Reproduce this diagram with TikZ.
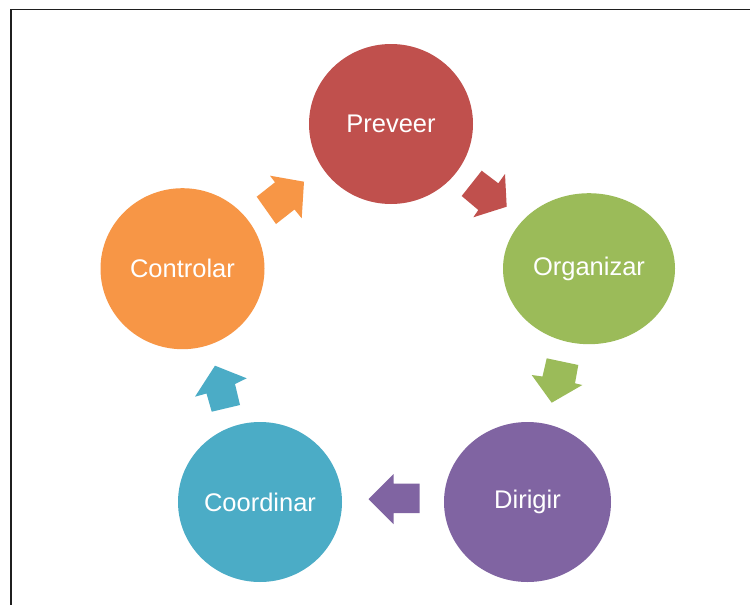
\documentclass[tikz,border=0pt]{standalone}
\usepackage{fontspec}
\setmainfont{Liberation Sans}
\usetikzlibrary{shapes.geometric}
\definecolor{cred}{HTML}{C0504D}
\definecolor{cgreen}{HTML}{9BBB59}
\definecolor{cpurple}{HTML}{8064A2}
\definecolor{cteal}{HTML}{4BACC6}
\definecolor{corange}{HTML}{F79646}
\begin{document}
\begin{tikzpicture}[x=1pt,y=-1pt,
  stage/.style={ellipse, inner sep=0pt, text=white, font=\fontsize{25.5}{30}\selectfont}]
\useasboundingbox (0,0) rectangle (750,605);
\clip (0,0) rectangle (750,605);
\fill[white] (0,0) rectangle (750,605);
% frame
\draw[line width=1.8pt, color=black!88] (11,620) -- (11,9.5) -- (770,9.5);
% stages
\node[stage, fill=cred, minimum width=164pt, minimum height=160pt] (prev) at (391,124) {Preveer};
\node[stage, fill=cgreen, minimum width=172pt, minimum height=151pt] (org) at (589,268.7) {Organizar};
\node[stage, fill=cpurple, minimum width=167pt, minimum height=160pt] (dir) at (527.5,502) {Dirigir};
\node[stage, fill=cteal, minimum width=164pt, minimum height=160pt] (coo) at (260,502) {Coordinar};
\node[stage, fill=corange, minimum width=164pt, minimum height=161pt] (con) at (182.5,268.7) {Controlar};
% block arrows
\fill[cred] (461.7,196) -- (481.7,170.7) -- (498.3,183.3) -- (505,174) -- (506.7,206.7) -- (473.3,217.3) -- (478.3,210) -- cycle;
\fill[cgreen] (546.7,358.3) -- (578.3,365) -- (575,383.3) -- (582.3,385) -- (551.7,402.7) -- (531.7,375) -- (542.5,376.5) -- cycle;
\fill[cpurple] (419.5,483.5) -- (393.5,483.5) -- (393.5,474) -- (368.5,499) -- (393.5,524) -- (393.5,513) -- (419.5,513) -- cycle;
\fill[cteal] (240,405) -- (235,384) -- (246.7,378.3) -- (215,365.7) -- (195,396.7) -- (206.5,393.5) -- (211.7,411.7) -- cycle;
\fill[corange] (256.7,196.7) -- (275,182.3) -- (270,175.7) -- (304,181.7) -- (301.7,218.3) -- (294.5,209.5) -- (276,224) -- cycle;
\end{tikzpicture}
\end{document}
